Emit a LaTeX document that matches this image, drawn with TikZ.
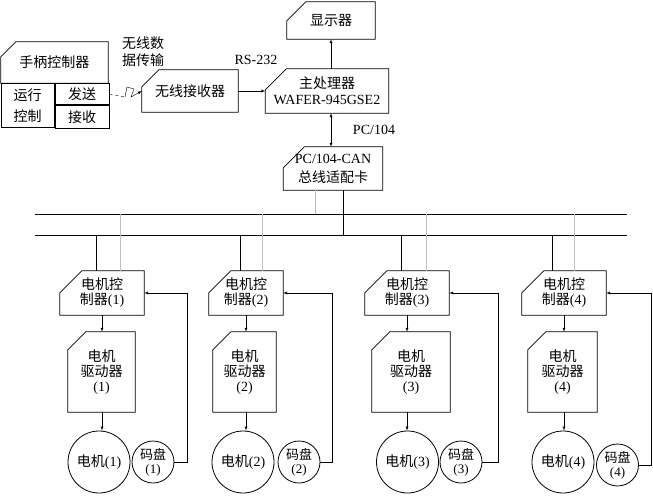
\documentclass[tikz,border=0pt]{standalone}
\usepackage{fontspec}
\setmainfont{Liberation Serif}
\newfontfamily\cjk{Noto Sans CJK SC}
\newcommand{\zh}[1]{{\cjk #1}}
\newcommand{\wz}{\fontsize{14pt}{15pt}\selectfont}
\newcommand{\xz}{\fontsize{13pt}{14pt}\selectfont}
\usetikzlibrary{arrows,calc}
% cadre avec coin coupe : nom du noeud, taille du coin
\newcommand{\kuang}[2]{\draw[kuangxian] ($(#1.north west)+(#2,0)$) -- (#1.north east) -- (#1.south east) -- (#1.south west) -- ($(#1.north west)+(0,#2)$) -- cycle;}

\begin{document}
\begin{tikzpicture}[x=1pt,y=-1pt,>=latex,font=\wz]
\tikzset{kuai/.style={inner sep=0pt,align=center},
kuangxian/.style={line width=0.8pt},
huixian/.style={gray!50}} %styles des cadres et des lignes grises
\useasboundingbox (0,0) rectangle (653,497);

% partie haute
\node[kuai,minimum width=88pt,minimum height=37pt] (disp) at (331,20.5) {\zh{显示器}};
\kuang{disp}{19}
\node[kuai,minimum width=123pt,minimum height=44pt] (cpu) at (327,91) {\zh{主处理器}\\[1pt]WAFER-945GSE2};
\kuang{cpu}{21}
\node[kuai,minimum width=99pt,minimum height=43pt] (card) at (333,168.5) {PC/104-CAN\\[4pt]\zh{总线适配卡}};
\kuang{card}{21}
\node[kuai,minimum width=96pt,minimum height=42pt] (recv) at (190,91) {\zh{无线接收器}};
\kuang{recv}{17}
\node[kuai,minimum width=107pt,minimum height=41pt] (hand) at (54.5,62.5) {\zh{手柄控制器}};
\kuang{hand}{15}
\node[kuai,draw,kuangxian,minimum width=53pt,minimum height=44pt,anchor=north west] (run) at (hand.south west) {\zh{运行}\\[6pt]\zh{控制}};
\node[kuai,draw,kuangxian,minimum width=54pt,minimum height=21pt,anchor=north west] (send) at (run.north east) {\zh{发送}};
\node[kuai,draw,kuangxian,minimum width=54pt,minimum height=23pt,anchor=north west] (rece) at (send.south west) {\zh{接收}};

\node[kuai] (wx) at (143,51.5) {\zh{无线数}\\[2pt]\zh{据传输}};
\node (rs) at (256,60) {RS-232};
\node (pc) at (374,130) {PC/104};

\draw[->] (recv.east) -- (cpu.west);
\draw[->] (cpu.north -| disp) -- (disp.south);
\draw[<->] (cpu.south -| disp) -- (disp.south |- card.north);
\draw[dashed] (send.east) -- (125,97) coordinate (zz);
\draw[->] (zz) -- ++(2,-10) -- ++(7,2) -- ++(-3,8) -- (recv.west);

% bus CAN
\coordinate (busA) at (35,214);
\coordinate (busB) at (35,235);
\draw (busA) -- ++(592,0);
\draw (busB) -- ++(592,0);
\draw[huixian] (315,0 |- card.south) -- (315,0 |- busA);
\draw (343,0 |- card.south) -- (343,0 |- busB);

% les quatre moteurs
\foreach \i/\xc/\cw/\xd/\dw/\xm/\xe/\ye/\xf/\xb/\xg in {
 1/102/84/101.5/67/99/153/462/187/96/120,
 2/246/74/244.5/63/243/299/462/332/240/262,
 3/407/84/411/78/407.5/461/462/498/401/426,
 4/564/84/562.5/69/563/617.5/465/651/552/574}
{
\node[kuai,minimum width=\cw pt,minimum height=44pt] (ctrl\i) at (\xc,293) {\zh{电机控}\\\zh{制器}(\i)};
\kuang{ctrl\i}{22}
\node[kuai,minimum width=\dw pt,minimum height=80pt] (drv\i) at (\xd,372) {\zh{电机}\\\zh{驱动器}\\(\i)};
\kuang{drv\i}{18}
\node[kuai,circle,draw,kuangxian,minimum size=62pt] (mot\i) at (\xm,462) {\zh{电机}(\i)};
\node[kuai,circle,draw,kuangxian,minimum size=42pt,font=\xz] (enc\i) at (\xe,\ye) {\zh{码盘}\\(\i)};
\draw[huixian] (\xg,0 |- busA) -- (\xg,0 |- ctrl\i.north);
\draw (\xb,0 |- busB) -- (\xb,0 |- ctrl\i.north);
\draw[->] (ctrl\i.south) -- (ctrl\i.south |- drv\i.north);
\draw[->] (ctrl\i.south |- drv\i.south) -- (ctrl\i.south |- mot\i.north);
\draw[->] (enc\i.east) -| (\xf,0 |- ctrl\i.east) -- (ctrl\i.east);
}
\end{tikzpicture}
\end{document}
